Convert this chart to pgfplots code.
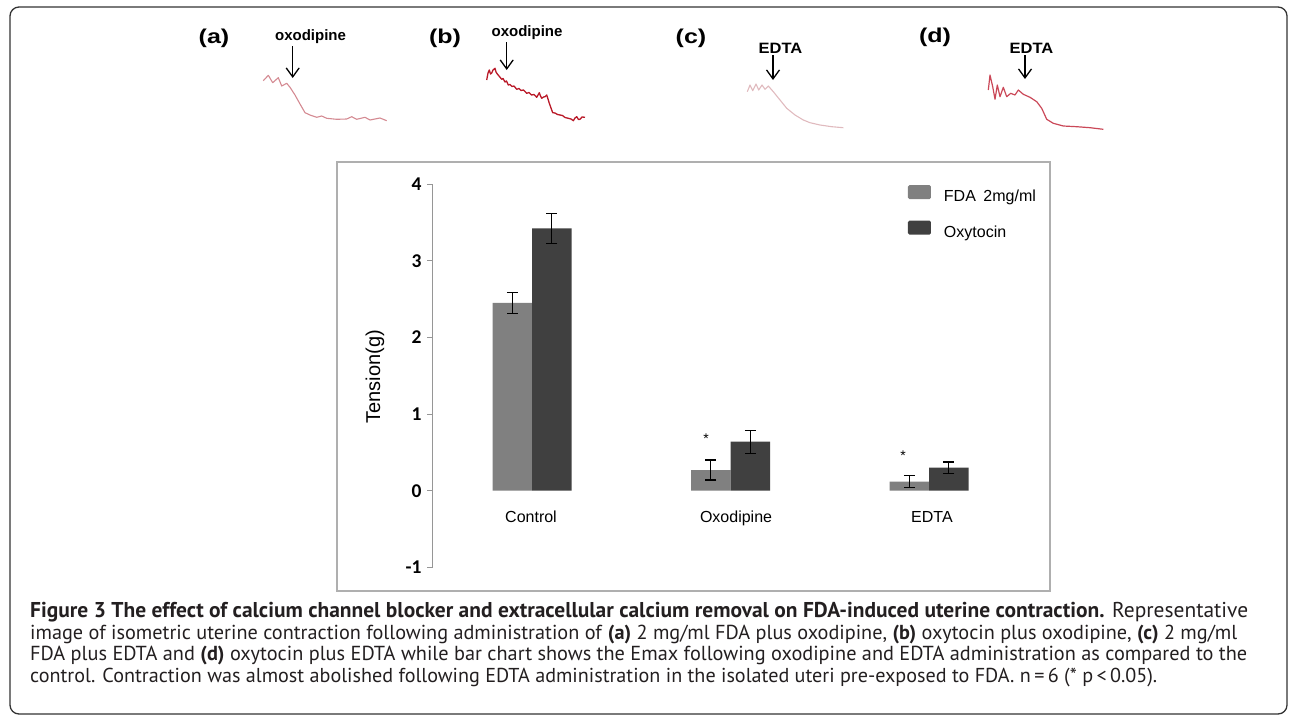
\documentclass[border=0pt]{standalone}
\usepackage{fontspec}
\setmainfont{Liberation Sans}
\newfontfamily\capfont{PT Sans}
\newfontfamily\tickfont{Carlito}
\usepackage{pgfplots}
\pgfplotsset{compat=1.18}
\usetikzlibrary{arrows.meta}
\definecolor{fdagray}{RGB}{128,128,128}
\definecolor{oxygray}{RGB}{64,64,64}
\definecolor{boxgray}{RGB}{175,175,175}
\definecolor{axisgray}{RGB}{150,150,150}
\definecolor{traceA}{RGB}{212,138,146}
\definecolor{traceB}{RGB}{185,25,40}
\definecolor{traceC}{RGB}{224,186,190}
\definecolor{traceD}{RGB}{202,72,88}
\definecolor{captext}{RGB}{35,31,32}
\begin{document}
\begin{tikzpicture}[x=1pt,y=1pt]
\path[use as bounding box] (0,0) rectangle (1290,-715);
% outer frame
\draw[line width=1.3pt, black!80, rounded corners=9pt] (10,-714) rectangle (1287,-7);
% chart box
\draw[line width=1.5pt, boxgray] (337,-162) rectangle (1050,-591);

% ---------- traces ----------
\begin{axis}[at={(0pt,0pt)}, anchor=north west, scale only axis,
  width=1290pt, height=715pt, xmin=0, xmax=1290, ymin=0, ymax=715,
  y dir=reverse, hide axis, clip=false]
\addplot[traceA, line width=1.1pt, line join=round] coordinates {
(263.3,80.7) (268.3,75.3) (272.7,82.7) (278.3,77.7) (281.7,86) (286.7,83.3)
(290,87.3) (295,95) (300,104) (305,112.7) (310,115) (316.7,117.3) (321.7,116)
(326.7,118.3) (336.7,119.3) (346.7,119) (351.7,116.7) (356.7,119.3) (365,117.3)
(370,120) (380,118) (386.7,120.7)};
\addplot[traceB, line width=1.3pt, line join=round] coordinates {
(486.7,80) (488,73) (489.3,70) (490.5,74) (491.7,73) (493,70) (495,68.3) (496,72)
(497.3,74) (499,76) (501.7,79.3) (503,78.5) (505,82) (506.5,81) (508.3,85) (510,84.5)
(512,86.5) (514,86) (516.7,89.3) (519,88.5) (521,90.5) (523.5,90) (526.7,93.3)
(529,92.5) (531.5,95) (534,94.5) (536.7,97.3) (538,95) (539.3,92.7) (540.5,96)
(541.7,98.3) (543.5,97) (545,96.7) (546.7,95) (548,99) (549.3,103.3) (551,108)
(552.7,112.7) (555,113) (557.5,114.5) (560,115) (562.5,115.5) (565,117.5)
(568.3,118.3) (571,119) (573.3,120.7) (575,118) (576.7,116.7) (578.5,119.5)
(580,119.3) (582,117) (585,117.3)};
\addplot[traceC, line width=1.1pt, line join=round] coordinates {
(747.3,91.7) (750,85) (752.7,90.7) (756,84) (758.7,90) (762,85) (765,89.3)
(768.3,86) (773.3,91.7) (780,100) (786.7,108.3) (795,115) (803.3,120)
(810,122.7) (820,125) (831.7,126.7) (843.3,127.7)};
\addplot[traceD, line width=1.2pt, line join=round] coordinates {
(988.3,90) (990,75) (992.7,86.7) (995,99.3) (997.3,85) (1000,96.7) (1003.3,87.3)
(1006.7,96.7) (1010.7,93.3) (1015,95) (1018.3,90) (1023.3,94.3) (1030,97.3)
(1036.7,101.7) (1041.7,108.3) (1046.7,119.3) (1053.3,123.3) (1063.3,126)
(1076.7,126.7) (1090,127.7) (1103.3,129.3)};
\end{axis}

% trace labels
\begin{scope}[every node/.style={font=\bfseries\fontsize{20}{20}\selectfont, xscale=1.25}]
\node at (214,-38) {(a)};
\node at (445,-38) {(b)};
\node at (691,-38) {(c)};
\node at (935,-37) {(d)};
\end{scope}
\begin{scope}[every node/.style={font=\bfseries\fontsize{15}{15}\selectfont}]
\node at (310.5,-37) {oxodipine};
\node at (527,-33) {oxodipine};
\node[xscale=1.1] at (780.5,-48) {EDTA};
\node[xscale=1.1] at (1031.5,-48) {EDTA};
\end{scope}
\begin{scope}[line width=1.3pt, -{Straight Barb[length=9pt,width=13pt]}]
\draw (292.7,-46) -- (292.7,-78);
\draw (506.7,-42) -- (506.7,-70);
\draw (773,-55) -- (773,-80);
\draw (1025,-55) -- (1025,-79);
\end{scope}

% ---------- bar chart ----------
\begin{axis}[at={(432.75pt,-567.4pt)}, anchor=south west,
  scale only axis, width=595.5pt, height=383.4pt,
  xmin=-0.5, xmax=2.5, ymin=-1, ymax=4,
  axis x line=none, axis y line*=left,
  y axis line style={draw=axisgray, line width=1.3pt},
  ytick={-1,0,1,2,3,4},
  /pgf/number format/assume math mode=true,
  yticklabel style={font=\tickfont\bfseries\fontsize{19.5}{19.5}\selectfont, inner sep=0pt, xshift=-5.5pt},
  ytick style={draw=axisgray, line width=1pt},
  tick align=outside, major tick length=5.5pt,
  ybar=0pt, bar width=39.5pt, clip=false,
  legend style={draw=none, fill=none, at={(axis description cs:0.798,0.9969)},
    anchor=north west, inner sep=0pt, outer sep=0pt,
    font=\fontsize{16}{16}\selectfont, row sep=15pt,
    nodes={inner sep=0pt, text height=12pt, text depth=4pt},
    /tikz/every odd column/.append style={column sep=13pt}},
  legend cell align=left,
  legend image code/.code={\fill[#1, rounded corners=1.5pt] (0pt,-1.5pt) rectangle (23pt,12.5pt);},
]
\addplot[fill=fdagray, draw=none,
  error bars/.cd, y dir=both, y explicit,
  error bar style={line width=1.2pt, black},
  error mark options={rotate=90, mark size=5.5pt, line width=1.2pt, black}]
  coordinates {(0,2.45) +- (0,0.135) (1,0.27) +- (0,0.13) (2,0.12) +- (0,0.08)};
\addlegendentry{FDA\hspace{7.5pt}2mg/ml}
\addplot[fill=oxygray, draw=none,
  error bars/.cd, y dir=both, y explicit,
  error bar style={line width=1.2pt, black},
  error mark options={rotate=90, mark size=5.5pt, line width=1.2pt, black}]
  coordinates {(0,3.42) +- (0,0.195) (1,0.64) +- (0,0.15) (2,0.30) +- (0,0.075)};
\addlegendentry{Oxytocin}
\node[font=\fontsize{14}{14}\selectfont, xshift=-24.5pt, yshift=-3pt] at (axis cs:1,0.713) {*};
\node[font=\fontsize{14}{14}\selectfont, xshift=-26pt, yshift=-3pt] at (axis cs:2,0.50) {*};
\begin{scope}[every node/.style={font=\fontsize{16}{16}\selectfont, text height=11.5pt, text depth=0pt}]
\node at (axis cs:-0.005,-0.343) {Control};
\node at (axis cs:1.028,-0.343) {Oxodipine};
\node at (axis cs:2.015,-0.343) {EDTA};
\end{scope}
\end{axis}
\node[rotate=90, font=\fontsize{20}{20}\selectfont] at (375,-376.7) {Tension(g)};

% ---------- caption ----------
\begin{scope}[every node/.style={anchor=base west, inner sep=0pt, text=captext, font=\capfont\fontsize{19}{19}\selectfont}]
\node at (30,-617.5) {\resizebox{1218pt}{!}{\textbf{Figure 3 The effect of calcium channel blocker and extracellular calcium removal on FDA-induced uterine contraction.} Representative}};
\node at (30,-639) {\resizebox{1207pt}{!}{image of isometric uterine contraction following administration of \textbf{(a)} 2 mg/ml FDA plus oxodipine, \textbf{(b)} oxytocin plus oxodipine, \textbf{(c)} 2 mg/ml}};
\node at (30,-660.5) {\resizebox{1217pt}{!}{FDA plus EDTA and \textbf{(d)} oxytocin plus EDTA while bar chart shows the Emax following oxodipine and EDTA administration as compared to the}};
\node at (30,-682) {\resizebox{1127pt}{!}{control. Contraction was almost abolished following EDTA administration in the isolated uteri pre-exposed to FDA. n\,=\,6 (* p\,<\,0.05).}};
\end{scope}
\end{tikzpicture}
\end{document}
